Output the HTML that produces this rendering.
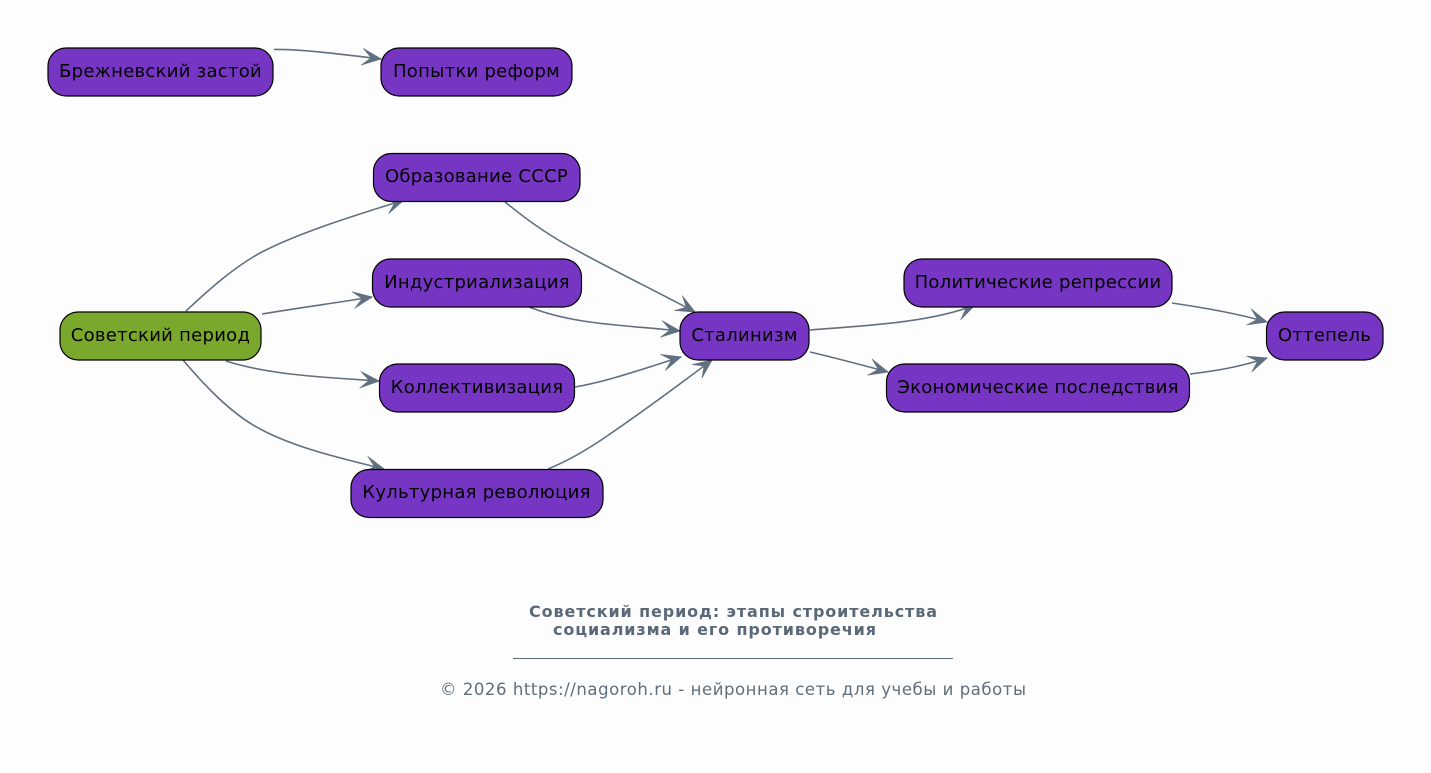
<!DOCTYPE html>
<html><head><meta charset="utf-8"><style>
html,body{margin:0;padding:0;background:#fdfdfd;width:1431px;height:773px;overflow:hidden}
svg{display:block}
text{font-family:"DejaVu Sans",sans-serif}
.n{fill:#7636c3;stroke:#000;stroke-width:1.2}
.t{font-size:18px;letter-spacing:.27px;fill:#000;text-anchor:middle}
.e{fill:none;stroke:#607080;stroke-width:1.6;marker-end:url(#v)}
</style></head><body>
<svg width="1431" height="773" viewBox="0 0 1431 773" xmlns="http://www.w3.org/2000/svg">
<defs><marker id="v" markerUnits="userSpaceOnUse" markerWidth="40" markerHeight="40" refX="20" refY="20" orient="auto" overflow="visible"><path d="M1,11.500 L20.500,20 L1,28.500 L10,20 Z" fill="#607080" stroke="#607080" stroke-width=".5"/></marker></defs>
<rect width="1431" height="773" fill="#fdfdfd"/>
<path class="e" d="M274,49.500 C300,49 340,54 381,59"/>
<path class="e" d="M186,311 C200,298 235,264 270,248 C310,229 360,214 404,200"/>
<path class="e" d="M262,314 C298,308 335,303 372,297"/>
<path class="e" d="M226,361 C270,375 320,377 379,381"/>
<path class="e" d="M183,360 C200,380 225,408 253,425 C290,447 340,458 384,469"/>
<path class="e" d="M505,202 C520,214 535,226 560,241 C600,264 650,288 695,312"/>
<path class="e" d="M529,307 C575,325 625,325 680,331"/>
<path class="e" d="M575,387 C610,381 645,368 681,357"/>
<path class="e" d="M548,469 C570,460 590,448 610,434 C645,410 680,384 712,360"/>
<path class="e" d="M810,330 C860,326 930,323 975,305"/>
<path class="e" d="M810,352 C836,358 862,365 888,372"/>
<path class="e" d="M1172,303 C1205,308 1235,313 1267,322"/>
<path class="e" d="M1190,374 C1215,371 1240,367 1267,358"/>
<rect class="n" x="48" y="48" width="225" height="48" rx="18"/>
<rect class="n" x="381" y="48" width="191" height="48" rx="18"/>
<rect class="n" x="373.500" y="153.500" width="206.500" height="48" rx="18"/>
<rect class="n" x="372.500" y="259" width="209" height="48" rx="18"/>
<rect x="60" y="312" width="201" height="48" rx="18" fill="#7aa82c" stroke="#000" stroke-width="1.2"/>
<rect class="n" x="379.500" y="364" width="195" height="48" rx="18"/>
<rect class="n" x="351" y="469.500" width="252" height="48" rx="18"/>
<rect class="n" x="680" y="312" width="129" height="48" rx="18"/>
<rect class="n" x="904" y="259" width="268" height="48" rx="18"/>
<rect class="n" x="886.500" y="364" width="303" height="48" rx="18"/>
<rect class="n" x="1266.500" y="312" width="116.500" height="48" rx="18"/>
<text class="t" x="160.500" y="77">Брежневский застой</text>
<text class="t" x="476.500" y="77">Попытки реформ</text>
<text class="t" x="476.500" y="182">Образование СССР</text>
<text class="t" x="477" y="288">Индустриализация</text>
<text class="t" x="160.500" y="341">Советский период</text>
<text class="t" x="477" y="393">Коллективизация</text>
<text class="t" x="476.500" y="498">Культурная революция</text>
<text class="t" x="744.500" y="341">Сталинизм</text>
<text class="t" x="1038" y="288">Политические репрессии</text>
<text class="t" x="1038" y="393">Экономические последствия</text>
<text class="t" x="1324.500" y="341">Оттепель</text>
<text x="529" y="617" font-size="16" font-weight="bold" fill="#5a6877" textLength="408" lengthAdjust="spacing">Советский период: этапы строительства</text>
<text x="553" y="635" font-size="16" font-weight="bold" fill="#5a6877" textLength="323" lengthAdjust="spacing">социализма и его противоречия</text>
<line x1="513" y1="658.500" x2="953" y2="658.500" stroke="#5f6e7c" stroke-width="1"/>
<text x="440" y="695" font-size="16.500" fill="#5f6e7c" textLength="586" lengthAdjust="spacing">© 2026 https://nagoroh.ru - нейронная сеть для учебы и работы</text>
</svg>
</body></html>
